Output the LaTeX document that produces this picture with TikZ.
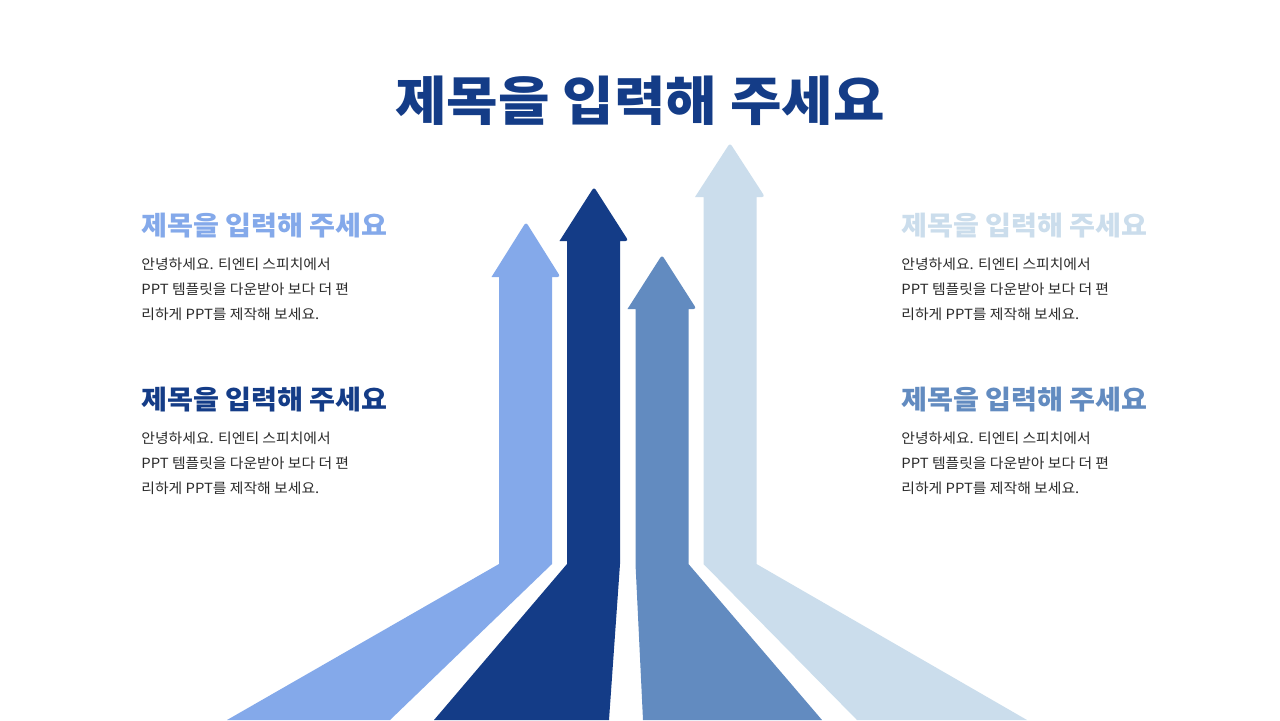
\documentclass[tikz,border=0pt]{standalone}
\usepackage{fontspec}
\newfontfamily\krfont[FakeStretch=1.06]{Noto Sans CJK KR}
\usetikzlibrary{positioning}

\definecolor{arrowLight}{HTML}{84A9EA}
\definecolor{arrowDark}{HTML}{143C87}
\definecolor{arrowMid}{HTML}{628BC0}
\definecolor{arrowPale}{HTML}{CBDDEC}
\definecolor{bodyGray}{HTML}{2B2B2B}

\begin{document}
\begin{tikzpicture}[
    x=0.5pt, y=-0.5pt, font=\krfont,
    % Styles
    titleNode/.style={inner sep=0pt, text=arrowDark, font=\krfont\bfseries\fontsize{26.4}{30}\selectfont},
    headNode/.style={anchor=west, inner sep=0pt, font=\krfont\bfseries\fontsize{13.3}{16}\selectfont},
    bodyNode/.style={anchor=west, inner sep=0pt, align=left, text=bodyGray, font=\krfont\fontsize{7}{12.5}\selectfont}
]
\useasboundingbox (0,0) rectangle (1280,720);
\fill[white] (0,0) rectangle (1280,720);

% ================= ARROWS =================
% 1. light arrow (left)
\fill[arrowLight] (499,564) -- (499,277) -- (491.5,277) [rounded corners=1.5pt] -- (526,222)
    -- (560.5,277) [sharp corners] -- (552,277) -- (552,564) -- (390,720) -- (227,720) -- cycle;
% 2. dark arrow
\fill[arrowDark] (567,564) -- (567,241) -- (559.5,241) [rounded corners=1.5pt] -- (594,187)
    -- (628.5,241) [sharp corners] -- (620,241) -- (620,564) -- (609,720) -- (434,720) -- cycle;
% 3. medium arrow
\fill[arrowMid] (635.5,564) -- (635.5,309) -- (627.5,309) [rounded corners=1.5pt] -- (662,255)
    -- (696.5,309) [sharp corners] -- (688.5,309) -- (688.5,564) -- (822,720) -- (643,720) -- cycle;
% 4. pale arrow (right)
\fill[arrowPale] (703.5,564) -- (703.5,197) -- (695,197) [rounded corners=1.5pt] -- (730,143)
    -- (765,197) [sharp corners] -- (756.5,197) -- (756.5,564) -- (1027,720) -- (857,720) -- cycle;

% ================= TITLE =================
\node[titleNode] (title) at (640,101) {제목을 입력해 주세요};

% ================= LEFT COLUMN =================
\node[headNode, text=arrowLight] (headTL) at (141,226) {제목을 입력해 주세요};
\node[bodyNode] (bodyTL) at (141,289) {안녕하세요. 티엔티 스피치에서\\PPT 템플릿을 다운받아 보다 더 편\\리하게 PPT를 제작해 보세요.};

\node[headNode, text=arrowDark] (headBL) at (141,400) {제목을 입력해 주세요};
\node[bodyNode] (bodyBL) at (141,463) {안녕하세요. 티엔티 스피치에서\\PPT 템플릿을 다운받아 보다 더 편\\리하게 PPT를 제작해 보세요.};

% ================= RIGHT COLUMN =================
\node[headNode, text=arrowPale] (headTR) at (901,226) {제목을 입력해 주세요};
\node[bodyNode] (bodyTR) at (901,289) {안녕하세요. 티엔티 스피치에서\\PPT 템플릿을 다운받아 보다 더 편\\리하게 PPT를 제작해 보세요.};

\node[headNode, text=arrowMid] (headBR) at (901,400) {제목을 입력해 주세요};
\node[bodyNode] (bodyBR) at (901,463) {안녕하세요. 티엔티 스피치에서\\PPT 템플릿을 다운받아 보다 더 편\\리하게 PPT를 제작해 보세요.};

\end{tikzpicture}
\end{document}
